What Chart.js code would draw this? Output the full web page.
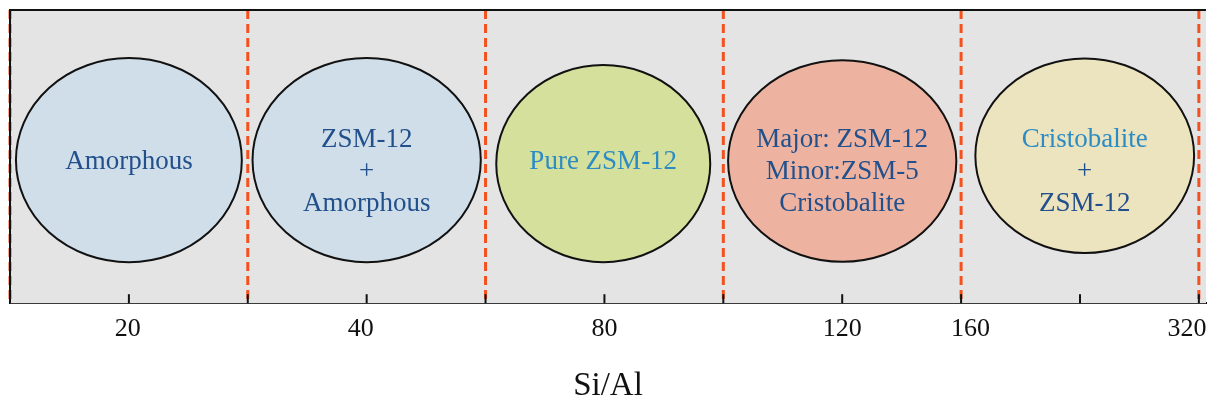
<!DOCTYPE html>
<html>
<head>
<meta charset="utf-8">
<script src="https://cdn.jsdelivr.net/npm/chart.js@4.4.0/dist/chart.umd.min.js"></script>
<style>
  html, body { margin: 0; padding: 0; background: #fff; }
  #wrap { width: 1211px; height: 406px; }
</style>
</head>
<body>
<div id="wrap"><canvas id="phaseChart"></canvas></div>
<script>
// axis: tick marks at 0..10, labels at some positions
var tickValues = [0, 1, 2, 3, 4, 5, 6, 7, 8, 9, 10];
var labelPos = [0.99, 2.95, 5, 7, 8.08, 9.9];
var labelText = ['20', '40', '80', '120', '160', '320'];

// red dashed region boundaries
var boundaries = [0, 2, 4, 6, 8, 10];

// phase ellipses
var phaseX = [1, 3, 4.99, 7, 9.04];
var phaseY = [0.488, 0.488, 0.476, 0.485, 0.503];
var phaseRx = [0.95, 0.96, 0.9, 0.96, 0.92];
var phaseRy = [0.348, 0.348, 0.336, 0.344, 0.332];
var phaseTextY = [0.488, 0.455, 0.488, 0.455, 0.455];
var phaseFill = ['#cfdee9', '#cfdee9', '#d5e09c', '#edb3a0', '#ece3bf'];
var phaseLines = [
    ['Amorphous'],
    ['ZSM-12', '+', 'Amorphous'],
    ['Pure ZSM-12'],
    ['Major: ZSM-12', 'Minor:ZSM-5', 'Cristobalite'],
    ['Cristobalite', '+', 'ZSM-12']
];
var phaseColors = [
    ['#22508c'],
    ['#22508c', '#22508c', '#22508c'],
    ['#2b8cc4'],
    ['#22508c', '#22508c', '#22508c'],
    ['#2b8cc4', '#22508c', '#22508c']
];

var serif = '"Liberation Serif", "DejaVu Serif", serif';

var phasePlugin = {
    id: 'phasePlugin',
    beforeDatasetsDraw: function(chart) {
        var c = chart.ctx, a = chart.chartArea;
        c.save();
        c.fillStyle = '#e4e4e4';
        c.fillRect(a.left, a.top, a.right - a.left, a.bottom - a.top);
        c.restore();
    },
    afterDatasetsDraw: function(chart) {
        var c = chart.ctx, a = chart.chartArea;
        var xs = chart.scales.x, ys = chart.scales.y;
        c.save();
        for (var i = 0; i < phaseX.length; i++) {
            var cx = xs.getPixelForValue(phaseX[i]);
            var cy = ys.getPixelForValue(phaseY[i]);
            var rx = xs.getPixelForValue(phaseX[i] + phaseRx[i]) - cx;
            var ry = cy - ys.getPixelForValue(phaseY[i] + phaseRy[i]);
            c.beginPath();
            c.ellipse(cx, cy, rx, ry, 0, 0, Math.PI * 2);
            c.fillStyle = phaseFill[i];
            c.fill();
            c.lineWidth = 2;
            c.strokeStyle = '#111';
            c.stroke();

            var lines = phaseLines[i];
            var lh = 32;
            var ty = ys.getPixelForValue(phaseTextY[i]);
            var y0 = ty - (lines.length - 1) * lh / 2 + 9;
            c.font = '27px ' + serif;
            c.textAlign = 'center';
            c.textBaseline = 'alphabetic';
            for (var j = 0; j < lines.length; j++) {
                c.fillStyle = phaseColors[i][j];
                c.fillText(lines[j], cx, y0 + j * lh);
            }
        }
        // frame: top and left
        c.strokeStyle = '#111';
        c.lineWidth = 2;
        c.beginPath();
        c.moveTo(a.left, a.bottom);
        c.lineTo(a.left, a.top);
        c.lineTo(a.right, a.top);
        c.stroke();
        // inward tick marks
        tickValues.forEach(function(v) {
            var px = xs.getPixelForValue(v);
            c.beginPath();
            c.moveTo(px, a.bottom);
            c.lineTo(px, a.bottom - 9);
            c.stroke();
        });
        c.restore();
    }
};

var datasets = boundaries.map(function(b) {
    return {
        data: [{x: b, y: 1}, {x: b, y: 0}],
        borderColor: '#f4511e',
        borderWidth: 3,
        borderDash: [9, 5],
        pointRadius: 0,
        clip: false
    };
});

var ctx = document.getElementById('phaseChart').getContext('2d');
var phaseChart = new Chart(ctx, {
    type: 'line',
    data: { datasets: datasets },
    options: {
        responsive: true,
        maintainAspectRatio: false,
        animation: false,
        layout: { padding: { left: 10, right: 5, top: 10, bottom: 0 } },
        scales: {
            x: {
                type: 'linear',
                min: 0,
                max: 10.06,
                afterBuildTicks: function(scale) {
                    scale.ticks = labelPos.map(function(v) { return { value: v }; });
                },
                afterFit: function(scale) {
                    // keep the last label from shrinking the plot
                    scale.paddingLeft = 0;
                    scale.paddingRight = 0;
                },
                grid: { display: false, drawTicks: false },
                border: { display: true, color: '#111', width: 2 },
                ticks: {
                    padding: 10,
                    color: '#111',
                    maxRotation: 0,
                    autoSkip: false,
                    font: { family: serif, size: 26 },
                    callback: function(value) {
                        var k = labelPos.indexOf(value);
                        return k >= 0 ? labelText[k] : '';
                    }
                },
                title: {
                    display: true,
                    text: 'Si/Al',
                    color: '#111',
                    font: { family: serif, size: 33 },
                    padding: { top: 12, bottom: 0 }
                }
            },
            y: {
                display: false,
                min: 0,
                max: 1
            }
        },
        plugins: {
            legend: { display: false },
            tooltip: { enabled: false }
        }
    },
    plugins: [phasePlugin]
});
</script>
</body>
</html>
